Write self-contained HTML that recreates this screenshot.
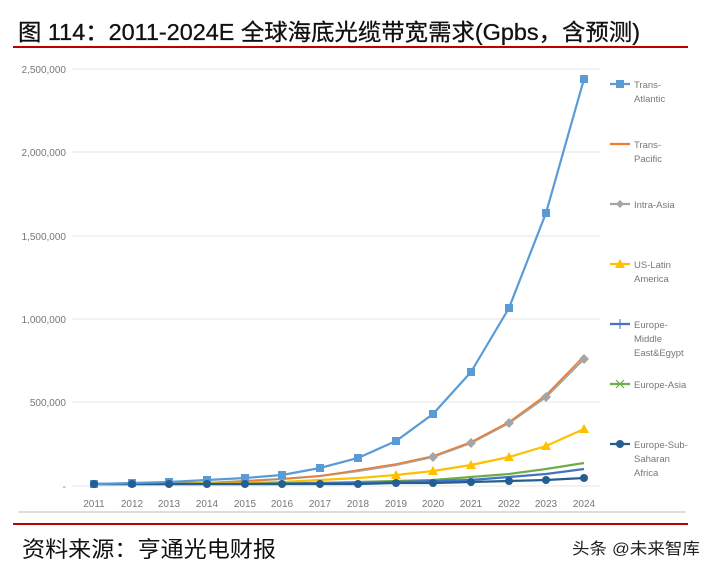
<!DOCTYPE html>
<html><head><meta charset="utf-8"><style>
body{margin:0;background:#fff;width:705px;height:571px;overflow:hidden;font-family:"Liberation Sans","Noto Sans CJK SC",sans-serif}
</style></head><body>
<svg width="705" height="571" xmlns="http://www.w3.org/2000/svg" style="position:absolute;left:0;top:0">
<text x="18" y="40" font-size="23" fill="#111" textLength="622" lengthAdjust="spacingAndGlyphs" stroke="#111" stroke-width="0.3" font-family="Liberation Sans,Noto Sans CJK SC,sans-serif">图 114：2011-2024E 全球海底光缆带宽需求(Gpbs，含预测)</text>
<rect x="13" y="46" width="675" height="2" fill="#c00000"/>
<g stroke="#e6e6e6" stroke-width="1">
<line x1="72" y1="69" x2="600" y2="69"/><line x1="72" y1="152" x2="600" y2="152"/><line x1="72" y1="236" x2="600" y2="236"/><line x1="72" y1="319" x2="600" y2="319"/><line x1="72" y1="402" x2="600" y2="402"/><line x1="72" y1="486" x2="600" y2="486"/>
</g>
<g font-size="10" fill="#777" text-anchor="end" font-family="Liberation Sans Narrow,Liberation Sans,sans-serif">
<text x="66" y="73">2,500,000</text><text x="66" y="156">2,000,000</text><text x="66" y="240">1,500,000</text><text x="66" y="323">1,000,000</text><text x="66" y="406">500,000</text><text x="66" y="490">-</text>
</g>
<g font-size="10" fill="#777" text-anchor="middle">
<text x="94" y="507">2011</text><text x="132" y="507">2012</text><text x="169" y="507">2013</text><text x="207" y="507">2014</text><text x="245" y="507">2015</text><text x="282" y="507">2016</text><text x="320" y="507">2017</text><text x="358" y="507">2018</text><text x="396" y="507">2019</text><text x="433" y="507">2020</text><text x="471" y="507">2021</text><text x="509" y="507">2022</text><text x="546" y="507">2023</text><text x="584" y="507">2024</text>
</g>
<g fill="none" stroke-width="2.2">
<polyline stroke="#a5a5a5" points="94,484 132,484 169,483 207,483 245,481 282,479 320,476 358,471 396,465 433,457 471,443 509,423 546,397 584,359"/>
<polyline stroke="#ed7d31" stroke-width="1.6" points="94,484 132,484 169,483 207,483 245,481 282,479 320,476 358,470 396,464 433,456 471,442 509,422 546,395 584,356"/>
<polyline stroke="#ffc000" points="94,484 132,484 169,484 207,483 245,483 282,482 320,480 358,478 396,475 433,471 471,465 509,457 546,446 584,429"/>
<polyline stroke="#70ad47" points="94,484 132,484 169,484 207,484 245,484 282,483 320,483 358,482 396,481 433,480 471,477 509,474 546,469 584,463"/>
<polyline stroke="#4472c4" points="94,484 132,484 169,484 207,484 245,484 282,484 320,483 358,483 396,482 433,481 471,480 509,477 546,474 584,469"/>
<polyline stroke="#255e91" points="94,484 132,484 169,484 207,484 245,484 282,484 320,484 358,484 396,483 433,483 471,482 509,481 546,480 584,478"/>
<polyline stroke="#5b9bd5" points="94,484 132,483 169,482 207,480 245,478 282,475 320,468 358,458 396,441 433,414 471,372 509,308 546,213 584,79"/>
</g>
<g fill="#5b9bd5">
<rect x="90" y="480" width="8" height="8"/><rect x="128" y="479" width="8" height="8"/><rect x="165" y="478" width="8" height="8"/><rect x="203" y="476" width="8" height="8"/><rect x="241" y="474" width="8" height="8"/><rect x="278" y="471" width="8" height="8"/><rect x="316" y="464" width="8" height="8"/><rect x="354" y="454" width="8" height="8"/><rect x="392" y="437" width="8" height="8"/><rect x="429" y="410" width="8" height="8"/><rect x="467" y="368" width="8" height="8"/><rect x="505" y="304" width="8" height="8"/><rect x="542" y="209" width="8" height="8"/><rect x="580" y="75" width="8" height="8"/>
</g>
<g fill="#ffc000">
<polygon points="433,466 438,475 428,475"/><polygon points="471,460 476,469 466,469"/><polygon points="509,452 514,461 504,461"/><polygon points="546,441 551,450 541,450"/><polygon points="584,424 589,433 579,433"/><polygon points="396,470 401,479 391,479"/>
</g>
<g fill="#a5a5a5"><polygon points="584,354 589,359 584,364 579,359"/><polygon points="546,392 551,397 546,402 541,397"/><polygon points="509,418 514,423 509,428 504,423"/><polygon points="471,438 476,443 471,448 466,443"/><polygon points="433,452 438,457 433,462 428,457"/></g>
<g fill="#255e91">
<circle cx="94" cy="484" r="4"/><circle cx="132" cy="484" r="4"/><circle cx="169" cy="484" r="4"/><circle cx="207" cy="484" r="4"/><circle cx="245" cy="484" r="4"/><circle cx="282" cy="484" r="4"/><circle cx="320" cy="484" r="4"/><circle cx="358" cy="484" r="4"/><circle cx="396" cy="483" r="4"/><circle cx="433" cy="483" r="4"/><circle cx="471" cy="482" r="4"/><circle cx="509" cy="481" r="4"/><circle cx="546" cy="480" r="4"/><circle cx="584" cy="478" r="4"/>
</g>
<g stroke-width="2.2">
<line x1="610" y1="84" x2="630" y2="84" stroke="#5b9bd5"/><rect x="616" y="80" width="8" height="8" fill="#5b9bd5"/>
<line x1="610" y1="144" x2="630" y2="144" stroke="#ed7d31"/>
<line x1="610" y1="204" x2="630" y2="204" stroke="#a5a5a5"/><polygon points="620,200 624,204 620,208 616,204" fill="#a5a5a5"/>
<line x1="610" y1="264" x2="630" y2="264" stroke="#ffc000"/><polygon points="620,259 625,268 615,268" fill="#ffc000"/>
<line x1="610" y1="324" x2="630" y2="324" stroke="#4472c4"/><line x1="620" y1="319" x2="620" y2="329" stroke="#4472c4" stroke-width="1"/>
<line x1="610" y1="384" x2="630" y2="384" stroke="#70ad47"/><path d="M616 380 L624 388 M624 380 L616 388" stroke="#70ad47" stroke-width="1.2"/>
<line x1="610" y1="444" x2="630" y2="444" stroke="#255e91"/><circle cx="620" cy="444" r="4" fill="#255e91"/>
</g>
<g font-size="9.5" fill="#777" font-family="Liberation Sans Narrow,Liberation Sans,sans-serif">
<text x="634" y="88">Trans-</text><text x="634" y="102">Atlantic</text>
<text x="634" y="148">Trans-</text><text x="634" y="162">Pacific</text>
<text x="634" y="208">Intra-Asia</text>
<text x="634" y="268">US-Latin</text><text x="634" y="282">America</text>
<text x="634" y="328">Europe-</text><text x="634" y="342">Middle</text><text x="634" y="356">East&amp;Egypt</text>
<text x="634" y="388">Europe-Asia</text>
<text x="634" y="448">Europe-Sub-</text><text x="634" y="462">Saharan</text><text x="634" y="476">Africa</text>
</g>
<line x1="18" y1="512" x2="686" y2="512" stroke="#bbb" stroke-width="1"/>
<rect x="13" y="523" width="675" height="2" fill="#c00000"/>
<text x="22" y="557" font-size="22" fill="#111" textLength="254" lengthAdjust="spacingAndGlyphs">资料来源：亨通光电财报</text>
<text x="572" y="554" font-size="16" fill="#222" textLength="128" lengthAdjust="spacingAndGlyphs">头条 @未来智库</text>
</svg>
</body></html>
